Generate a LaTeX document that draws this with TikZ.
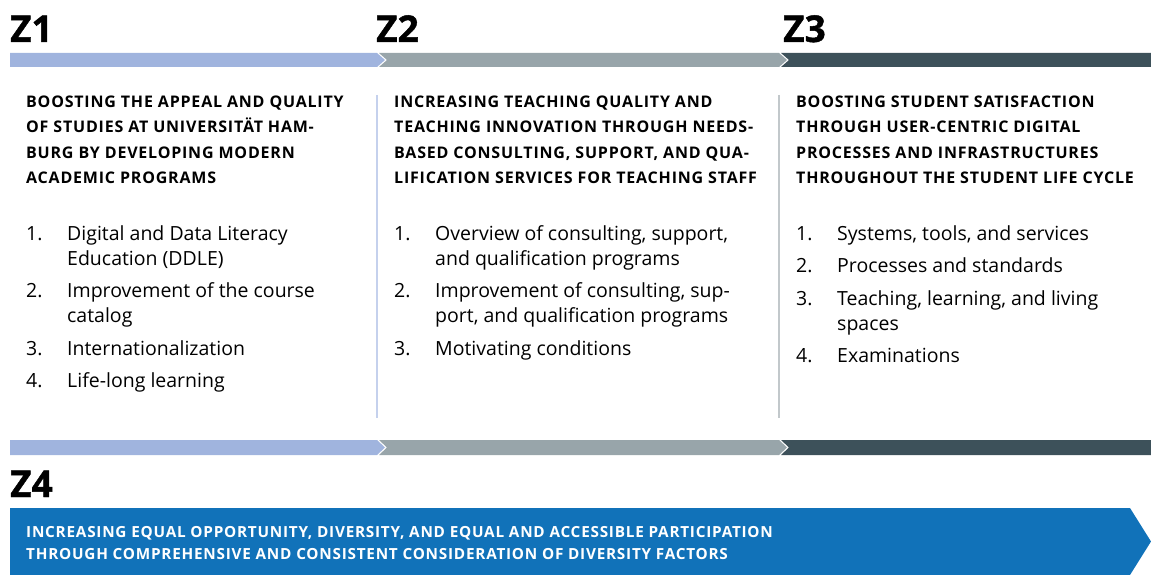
\documentclass[tikz,border=0pt]{standalone}
\usepackage{fontspec}
\setmainfont{Open Sans}
\newfontfamily\headfont{Open Sans}[LetterSpace=5]
\newfontfamily\zfont{Open Sans}[BoldFeatures={FakeBold=1.2}]
\usepackage{tikz}
\usetikzlibrary{positioning}
\definecolor{zblue}{HTML}{A0B4DE}
\definecolor{zgray}{HTML}{98A5AA}
\definecolor{zdark}{HTML}{3D515A}
\definecolor{zbox}{HTML}{1172B9}
\definecolor{zblueline}{HTML}{C5D1ED}
\definecolor{zgrayline}{HTML}{C2C8CB}
\tikzset{
	zlabel/.style={anchor=base west,inner sep=0pt,font=\fontsize{37}{37}\zfont\bfseries},
	headtxt/.style={anchor=north west,inner sep=0pt,align=left,font=\fontsize{16}{25.3}\headfont\bfseries},
	numtxt/.style={anchor=north west,inner sep=0pt,font=\fontsize{19.5}{25}\selectfont},
	itemtxt/.style={anchor=north west,inner sep=0pt,align=left,font=\fontsize{19.5}{25}\selectfont},
	boxtxt/.style={anchor=north west,inner sep=0pt,align=left,text=white,font=\fontsize{15.3}{22}\headfont\bfseries}
}

\begin{document}
\begin{tikzpicture}[x=1pt,y=-1pt]
	\useasboundingbox (0,0) rectangle (1151,575);
	\node[zlabel] (z1) at (10,42) {Z1};
	\node[zlabel] (z2) at (376,42) {Z2};
	\node[zlabel] (z3) at (783,42) {Z3};
	\fill[zblue] (10,53) -- (377,53) -- (385,60) -- (377,67) -- (10,67) -- cycle;
	\fill[zgray] (379,53) -- (779,53) -- (787,60) -- (779,67) -- (379,67) -- (387,60) -- cycle;
	\fill[zdark] (781,53) -- (1151,53) -- (1151,67) -- (781,67) -- (789,60) -- cycle;
	\draw[zblueline,line width=1.5] (377,95) -- (377,418);
	\draw[zgrayline,line width=1.5] (779,95) -- (779,418);
	\node[headtxt] (h1) at (26,89.5) {\strut BOOSTING THE APPEAL AND QUALITY\\OF STUDIES AT UNIVERSITÄT HAM-\\BURG BY DEVELOPING MODERN\\ACADEMIC PROGRAMS};
	\node[headtxt] (h2) at (394,89.5) {\strut INCREASING TEACHING QUALITY AND\\TEACHING INNOVATION THROUGH NEEDS-\\BASED CONSULTING, SUPPORT, AND QUA-\\LIFICATION SERVICES FOR TEACHING STAFF};
	\node[headtxt] (h3) at (796,89.5) {\strut BOOSTING STUDENT SATISFACTION\\THROUGH USER-CENTRIC DIGITAL\\PROCESSES AND INFRASTRUCTURES\\THROUGHOUT THE STUDENT LIFE CYCLE};

	\node[itemtxt] (a1) at (67,222.5) {\strut Digital and Data Literacy\\Education (DDLE)\strut};
	\node[itemtxt,below=7pt of a1.south west,anchor=north west] (a2) {\strut Improvement of the course\\catalog\strut};
	\node[itemtxt,below=7pt of a2.south west,anchor=north west] (a3) {\strut Internationalization\strut};
	\node[itemtxt,below=7pt of a3.south west,anchor=north west] (a4) {\strut Life-long learning\strut};
	\node[numtxt,left=41pt of a1.north west,anchor=north west] (na1) {\strut 1.};
	\node[numtxt,left=41pt of a2.north west,anchor=north west] (na2) {\strut 2.};
	\node[numtxt,left=41pt of a3.north west,anchor=north west] (na3) {\strut 3.};
	\node[numtxt,left=41pt of a4.north west,anchor=north west] (na4) {\strut 4.};

	\node[itemtxt] (b1) at (435,222.5) {\strut Overview of consulting, support,\\and qualification programs\strut};
	\node[itemtxt,below=7pt of b1.south west,anchor=north west] (b2) {\strut Improvement of consulting, sup-\\port, and qualification programs\strut};
	\node[itemtxt,below=7pt of b2.south west,anchor=north west] (b3) {\strut Motivating conditions\strut};
	\node[numtxt,left=41pt of b1.north west,anchor=north west] (nb1) {\strut 1.};
	\node[numtxt,left=41pt of b2.north west,anchor=north west] (nb2) {\strut 2.};
	\node[numtxt,left=41pt of b3.north west,anchor=north west] (nb3) {\strut 3.};

	\node[itemtxt] (c1) at (837,222.5) {\strut Systems, tools, and services\strut};
	\node[itemtxt,below=7pt of c1.south west,anchor=north west] (c2) {\strut Processes and standards\strut};
	\node[itemtxt,below=7pt of c2.south west,anchor=north west] (c3) {\strut Teaching, learning, and living\\spaces\strut};
	\node[itemtxt,below=7pt of c3.south west,anchor=north west] (c4) {\strut Examinations\strut};
	\node[numtxt,left=41pt of c1.north west,anchor=north west] (nc1) {\strut 1.};
	\node[numtxt,left=41pt of c2.north west,anchor=north west] (nc2) {\strut 2.};
	\node[numtxt,left=41pt of c3.north west,anchor=north west] (nc3) {\strut 3.};
	\node[numtxt,left=41pt of c4.north west,anchor=north west] (nc4) {\strut 4.};

	\fill[zblue] (10,440) -- (377,440) -- (385,447.5) -- (377,455) -- (10,455) -- cycle;
	\fill[zgray] (379,440) -- (779,440) -- (787,447.5) -- (779,455) -- (379,455) -- (387,447.5) -- cycle;
	\fill[zdark] (781,440) -- (1151,440) -- (1151,455) -- (781,455) -- (789,447.5) -- cycle;
	\node[zlabel] (z4) at (10,497) {Z4};
	\fill[zbox] (10,508) -- (1130,508) -- (1151,541.5) -- (1130,575) -- (10,575) -- cycle;
	\node[boxtxt] (t4) at (26,521.6) {\strut INCREASING EQUAL OPPORTUNITY, DIVERSITY, AND EQUAL AND ACCESSIBLE PARTICIPATION\\THROUGH COMPREHENSIVE AND CONSISTENT CONSIDERATION OF DIVERSITY FACTORS};
\end{tikzpicture}
\end{document}
